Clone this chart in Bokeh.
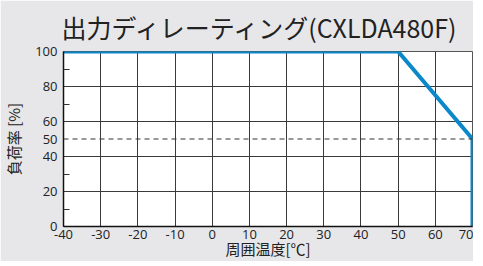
from bokeh.plotting import figure
from bokeh.models import FixedTicker, Span, Range1d
from bokeh.embed import file_html
from bokeh.resources import INLINE

temps = [-40, 50, 70, 70]
loads = [100, 100, 50, 0]
x_ticks = [-40, -30, -20, -10, 0, 10, 20, 30, 40, 50, 60, 70]
y_ticks = [0, 20, 40, 50, 60, 80, 100]
y_minor = [10, 30, 70, 90]
y_grid = [20, 40, 60, 80]
dash_level = 50

BG = "#e7e7e9"
p = figure(frame_width=409, frame_height=175, output_backend="svg", toolbar_location=None,
           x_range=Range1d(-40, 70), y_range=Range1d(0, 100),
           title="出力ディレーティング(CXLDA480F)",
           background_fill_color="white", border_fill_color=BG,
           min_border_left=57, min_border_right=1, min_border_top=43, min_border_bottom=31)
p.title.text_font = "Noto Sans CJK JP"
p.title.text_font_size = "25px"
p.title.text_font_style = "normal"
p.title.text_color = "#222222"
p.title.align = "left"
p.title.offset = -2
p.title.standoff = 13

p.xaxis.ticker = FixedTicker(ticks=x_ticks)
p.xaxis.major_label_overrides = {t: str(t) for t in x_ticks}
p.yaxis.ticker = FixedTicker(ticks=y_ticks, minor_ticks=y_minor)
for ax in (p.xaxis[0], p.yaxis[0]):
    ax.major_tick_in = 0
    ax.major_tick_out = 0
    ax.axis_line_color = "#111111"
    ax.axis_line_width = 1.5
    ax.major_label_text_font = "Open Sans"
    ax.major_label_text_font_size = "13px"
    ax.major_label_text_color = "#222222"
    ax.axis_label_text_font = "Noto Sans CJK JP"
    ax.axis_label_text_font_size = "15px"
    ax.axis_label_text_font_style = "normal"
    ax.axis_label_text_color = "#222222"
p.xaxis.minor_tick_line_color = None
p.yaxis.minor_tick_in = 6
p.yaxis.minor_tick_out = 0
p.yaxis.minor_tick_line_color = "#333333"
p.yaxis.major_label_standoff = 6
p.xaxis.major_label_standoff = 3
p.xaxis.axis_label = "周囲温度[℃]"
p.yaxis.axis_label = "負荷率 [%]"
p.xaxis.axis_label_standoff = -4
p.yaxis.axis_label_standoff = 8

p.xgrid.ticker = FixedTicker(ticks=x_ticks)
p.ygrid.ticker = FixedTicker(ticks=y_grid)
p.xgrid.grid_line_color = "#3a3a3a"
p.ygrid.grid_line_color = "#3a3a3a"
p.xgrid.grid_line_width = 1
p.ygrid.grid_line_width = 1
p.outline_line_color = "#555555"
p.outline_line_width = 1

p.add_layout(Span(location=dash_level, dimension="width", line_color="#333333",
                  line_width=1, line_dash="5 4"))
p.line(temps, loads, line_color="#0a88c9", line_width=4)

open("out.html", "w").write(file_html(p, INLINE))
